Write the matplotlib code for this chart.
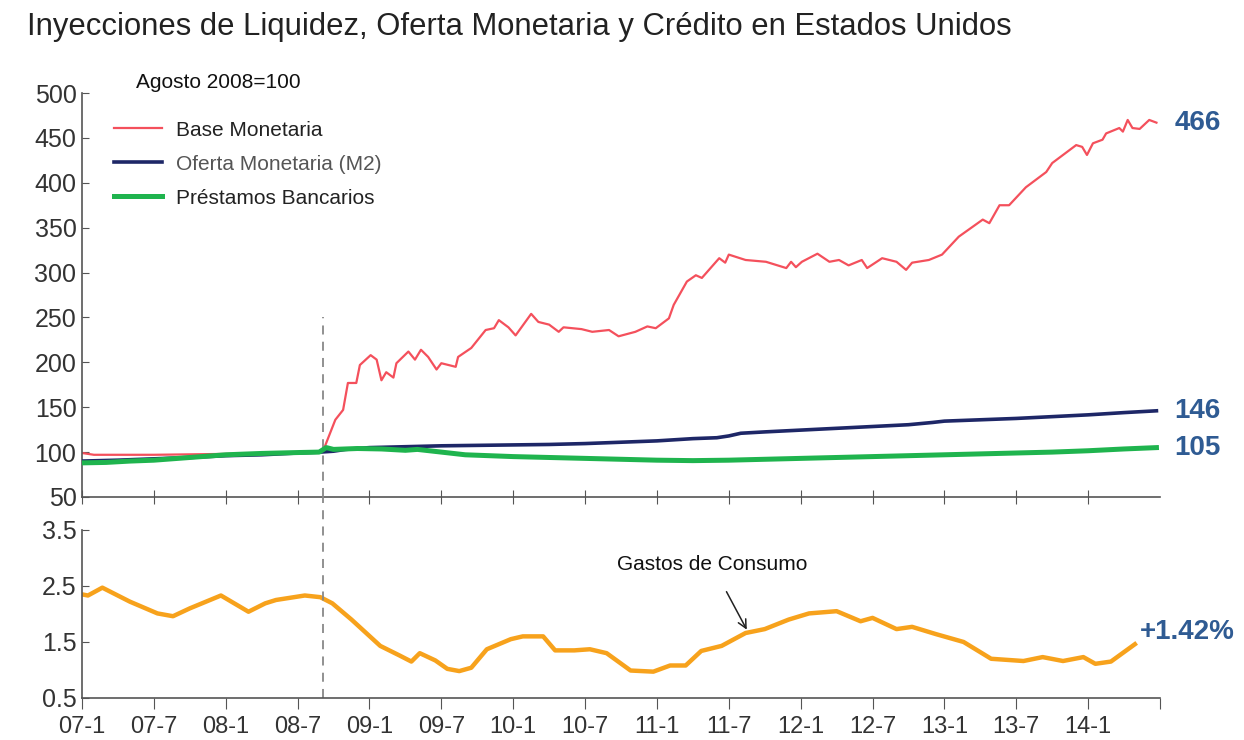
import matplotlib.pyplot as plt

plt.rcParams['font.family'] = ['Liberation Sans', 'DejaVu Sans']

# months since Jan 2007
tick_pos = [0, 6, 12, 18, 24, 30, 36, 42, 48, 54, 60, 66, 72, 78, 84, 90]
tick_labels = ['07-1', '07-7', '08-1', '08-7', '09-1', '09-7', '10-1', '10-7',
               '11-1', '11-7', '12-1', '12-7', '13-1', '13-7', '14-1', '']
lehman = 20.1

base_t = [0, 1, 6, 12, 18, 19.9, 20.15, 21.15, 21.8, 22.2, 22.9, 23.2, 24.1, 24.6, 25.0,
          25.4, 26.0, 26.25, 27.25, 27.8, 28.3, 28.9, 29.6, 30.0, 31.2, 31.4, 32.5,
          33.7, 34.4, 34.8, 35.6, 36.2, 37.5, 38.1, 39.0, 39.8, 40.2, 41.7, 42.6,
          44.0, 44.8, 46.2, 47.2, 47.9, 49.0, 49.4, 50.5, 51.25, 51.75, 53.2, 53.7,
          54.0, 55.4, 57.1, 58.8, 59.2, 59.6, 60.1, 61.4, 62.4, 63.2, 64.0, 65.1,
          65.55, 66.8, 68.0, 68.8, 69.3, 70.7, 71.8, 73.2, 75.2, 75.75, 76.6, 77.4,
          78.8, 80.5, 81.0, 82.2, 83.0, 83.5, 83.9, 84.4, 85.2, 85.5, 86.6, 86.9,
          87.3, 87.7, 88.3, 89.1, 89.7]
base_v = [99, 97, 97, 98, 99, 100, 102, 136, 147, 177, 177, 197, 208, 203, 180,
          189, 183, 199, 212, 203, 214, 206, 192, 199, 195, 206, 216,
          236, 238, 247, 239, 230, 254, 245, 242, 234, 239, 237, 234,
          236, 229, 234, 240, 238, 249, 264, 290, 297, 294, 316, 311,
          320, 314, 312, 305, 312, 306, 312, 321, 312, 314, 308, 314,
          305, 316, 312, 303, 311, 314, 320, 340, 359, 355, 375, 375,
          395, 412, 422, 434, 442, 440, 431, 444, 448, 455, 461, 457,
          470, 461, 460, 470, 467]

m2_t = [0, 3, 6, 9, 12, 15, 18, 19.9, 21, 22, 24, 27, 30, 33, 36, 39, 42, 45, 48,
        51, 53, 54, 55, 57, 60, 63, 66, 69, 71, 72, 75, 78, 81, 84, 87, 89.7]
m2_v = [90, 91, 92.5, 94, 96, 97, 99, 100, 101, 103, 105, 106, 107, 107.5, 108,
        108.5, 109.5, 111, 112.5, 115, 116, 118, 121, 122.5, 124.5, 126.5, 128.5,
        130.5, 133, 134.5, 136, 137.5, 139.5, 141.5, 144, 146]

loans_t = [0, 2, 4, 6, 9, 12, 15, 18, 19.8, 20.4, 21, 23, 25, 27, 28, 30, 32, 34,
           36, 39, 42, 45, 48, 51, 54, 57, 60, 63, 66, 69, 72, 75, 78, 81, 84, 87, 89.7]
loans_v = [88, 88.5, 90, 91, 94, 97, 98.5, 99.5, 100, 105, 103, 104, 103.5, 102,
           103, 100, 97, 96, 95, 94, 93, 92, 91, 90.5, 91, 92, 93, 94, 95, 96, 97,
           98, 99, 100, 101.5, 103.5, 105]

cons_t = [0, 0.5, 1.7, 4.0, 6.3, 7.6, 9.0, 11.6, 13.9, 15.3, 16.2, 18.6, 19.9, 20.9,
          22.5, 24.9, 26.5, 27.5, 28.2, 29.5, 30.5, 31.5, 32.5, 33.8, 35.8, 36.8,
          38.5, 39.5, 41.1, 42.4, 43.8, 45.8, 47.7, 49.1, 50.4, 51.7, 53.4, 55.4,
          57.0, 59.0, 60.7, 63.0, 65.0, 66.0, 68.0, 69.3, 71.3, 73.6, 75.9, 78.6,
          80.2, 81.9, 83.6, 84.6, 85.9, 87.9]
cons_v = [2.35, 2.33, 2.47, 2.22, 2.01, 1.96, 2.10, 2.33, 2.04, 2.19, 2.25, 2.33,
          2.30, 2.19, 1.90, 1.43, 1.26, 1.15, 1.30, 1.17, 1.02, 0.98, 1.04, 1.37,
          1.55, 1.60, 1.60, 1.35, 1.35, 1.37, 1.30, 0.99, 0.97, 1.08, 1.08, 1.34,
          1.43, 1.66, 1.73, 1.90, 2.01, 2.05, 1.87, 1.93, 1.73, 1.77, 1.64, 1.50,
          1.20, 1.16, 1.23, 1.16, 1.23, 1.11, 1.15, 1.46]

red = '#f4505c'
navy = '#1e2767'
green = '#1fb44e'
orange = '#f7a21c'
lblue = '#2f5b93'
spine = '#555555'

fig = plt.figure(figsize=(12.44, 7.40), dpi=100)
ax1 = fig.add_axes([0.0659, 0.3284, 0.8666, 0.5459])
ax2 = fig.add_axes([0.0659, 0.0568, 0.8666, 0.2270])

fig.text(0.022, 0.963, 'Inyecciones de Liquidez, Oferta Monetaria y Crédito en Estados Unidos',
         fontsize=22.3, va='center', ha='left', color='#222222')

ax1.plot(base_t, base_v, color=red, lw=1.6, label='Base Monetaria', zorder=2)
ax1.plot(m2_t, m2_v, color=navy, lw=2.6, label='Oferta Monetaria (M2)', zorder=3)
ax1.plot(loans_t, loans_v, color=green, lw=3.6, label='Préstamos Bancarios', zorder=4)
ax1.plot([lehman, lehman], [50, 250], color='#888888', lw=1.3, ls=(0, (5, 4)), zorder=1)

ax1.set_xlim(0, 90)
ax1.set_ylim(50, 500)
ax1.set_yticks(range(50, 501, 50))
ax1.set_xticks(tick_pos[:-1])
ax1.set_xticklabels([])
ax1.tick_params(axis='x', direction='inout', length=10, color=spine)
ax1.tick_params(axis='y', direction='in', length=5, color=spine, labelsize=18, pad=4,
                labelcolor='#333333')
for s in ['top', 'right']:
    ax1.spines[s].set_visible(False)
for s in ['left', 'bottom']:
    ax1.spines[s].set_color(spine)
    ax1.spines[s].set_linewidth(1.2)

leg = ax1.legend(loc='upper left', bbox_to_anchor=(0.012, 0.978), frameon=False,
                 fontsize=15, handlelength=2.3, handletextpad=0.7, labelspacing=0.72)
for t in leg.get_texts():
    t.set_color('#222222')
leg.get_texts()[1].set_color('#555555')

ax1.text(0.05, 1.025, 'Agosto 2008=100', transform=ax1.transAxes, fontsize=15,
         va='center', ha='left', color='#111111')

ax1.text(91.2, base_v[-1], '466', fontsize=20, fontweight='bold', color=lblue,
         va='center', ha='left', clip_on=False)
ax1.text(91.2, m2_v[-1], '146', fontsize=20, fontweight='bold', color=lblue,
         va='center', ha='left', clip_on=False)
ax1.text(91.2, loans_v[-1], '105', fontsize=20, fontweight='bold', color=lblue,
         va='center', ha='left', clip_on=False)

ax2.plot(cons_t, cons_v, color=orange, lw=3.2)
ax2.axvline(lehman, ymin=0, ymax=1.2, color='#888888', lw=1.3, ls=(0, (5, 4)), clip_on=False)
ax2.set_xlim(0, 90)
ax2.set_ylim(0.5, 3.5)
ax2.set_yticks([0.5, 1.5, 2.5, 3.5])
ax2.set_xticks(tick_pos)
ax2.set_xticklabels(tick_labels)
ax2.tick_params(axis='x', direction='out', length=8, color=spine, labelsize=17, pad=5,
                labelcolor='#333333')
ax2.tick_params(axis='y', direction='in', length=5, color=spine, labelsize=18, pad=4,
                labelcolor='#333333')
for s in ['top', 'right']:
    ax2.spines[s].set_visible(False)
for s in ['left', 'bottom']:
    ax2.spines[s].set_color(spine)
    ax2.spines[s].set_linewidth(1.2)

ax2.text(88.3, 1.68, '+1.42%', fontsize=20, fontweight='bold', color=lblue,
         va='center', ha='left', clip_on=False)
ax2.annotate('Gastos de Consumo', xy=(55.5, 1.72), xytext=(52.6, 2.88),
             fontsize=15, ha='center', va='center', color='#111111',
             arrowprops=dict(arrowstyle='->', color='#222222', lw=1.1,
                             shrinkA=12, shrinkB=0))

fig.savefig('out.png', dpi=100)
